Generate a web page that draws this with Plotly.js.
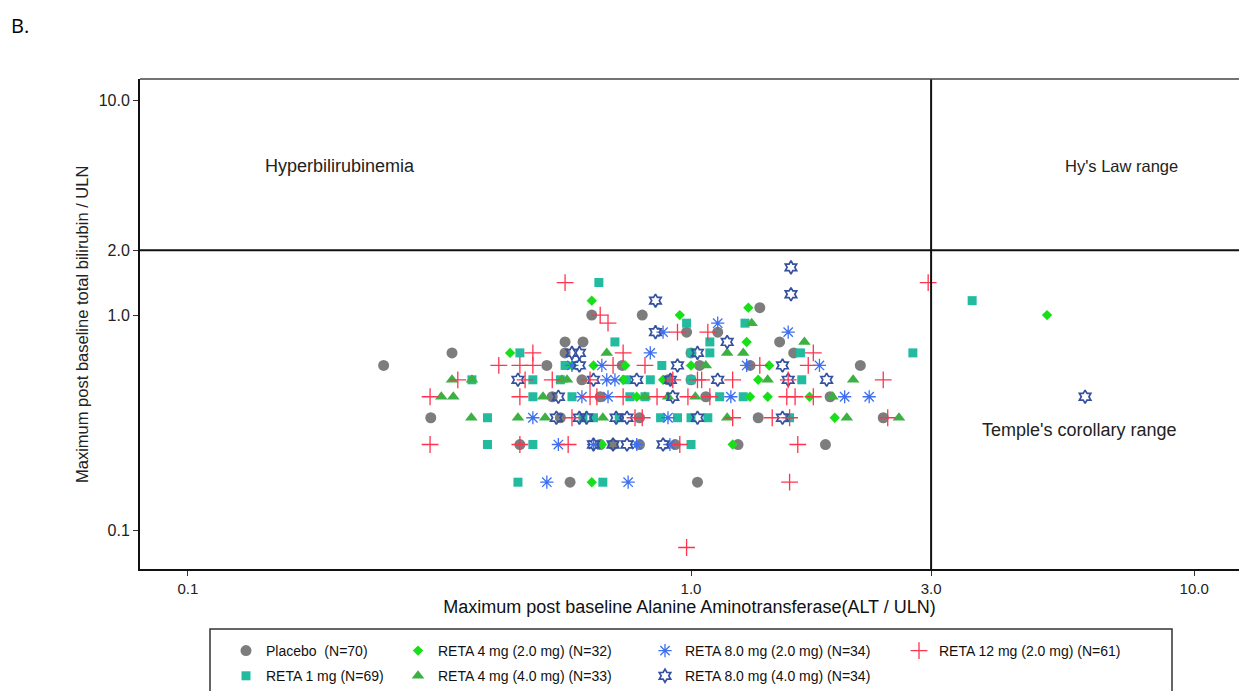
<!DOCTYPE html>
<html>
<head>
<meta charset="utf-8">
<script src="https://cdn.plot.ly/plotly-3.0.1.min.js"></script>
<style>
html,body{margin:0;padding:0;background:#fff;}
#chart{width:1239px;height:691px;}
</style>
</head>
<body>
<div id="chart"></div>
<script>
// ---- tick labels ----
const xTickVals = [0.1, 1, 3, 10];
const xTickText = ["0.1", "1.0", "3.0", "10.0"];
const yTickVals = [0.1, 1, 2, 10];
const yTickText = ["0.1", "1.0", "2.0", "10.0"];

// ---- axis titles ----
const xTitle = 'Maximum post baseline Alanine Aminotransferase(ALT / ULN)';
const yTitle = 'Maximum post baseline total bilirubin / ULN';

// ---- reference limits ----
const altLimit = 3;     // 3 x ULN
const biliLimit = 2;    // 2 x ULN

// ---- series: ALT/ULN (x) and total bilirubin/ULN (y) ----
const placeboX = [0.245,0.335,0.304,0.457,0.53,0.517,0.562,0.562,0.61,0.607,0.635,0.575,0.70,0.66,0.73,0.79,0.80,0.93,0.98,1.0,1.04,1.03,1.13,1.24,1.36,1.31,1.37,1.50,1.60,1.89,1.85,2.17,2.41,0.66,0.90,0.79,1.07,0.55,1.0];
const placeboY = [0.583,0.667,0.333,0.25,0.417,0.583,0.667,0.75,0.75,0.5,1.0,0.167,0.25,0.25,0.583,0.25,1.0,0.25,0.833,0.667,0.583,0.167,0.833,0.25,0.333,0.583,1.083,0.75,0.667,0.417,0.25,0.583,0.333,0.417,0.5,0.333,0.417,0.333,0.5];

const reta1X = [0.394,0.394,0.367,0.457,0.453,0.485,0.485,0.485,0.562,0.58,0.61,0.656,0.668,0.706,0.756,0.745,0.83,0.875,0.94,1.0,1.08,0.98,1.0,1.0,1.0,1.09,1.09,1.14,1.27,1.28,1.66,1.65,1.57,2.76,3.62,0.81,0.64,0.87,0.55,0.72];
const reta1Y = [0.333,0.25,0.5,0.667,0.167,0.417,0.25,0.5,0.583,0.417,0.333,1.417,0.167,0.75,0.417,0.5,0.5,0.583,0.333,0.333,0.333,0.917,0.25,0.667,0.5,0.667,0.75,0.417,0.417,0.917,0.5,0.667,0.333,0.667,1.167,0.417,0.333,0.333,0.5,0.333];

const reta4lowX = [0.437,0.635,0.635,0.665,0.64,0.74,0.733,0.78,0.95,1.21,1.29,1.30,1.31,1.42,1.36,1.43,1.72,1.93,5.1,0.88,1.0,0.58];
const reta4lowY = [0.667,1.167,0.167,0.25,0.583,0.583,0.5,0.417,1.0,0.25,0.75,1.083,0.417,0.417,0.5,0.583,0.417,0.333,1.0,0.5,0.583,0.583];

const reta4highX = [0.319,0.337,0.335,0.366,0.367,0.453,0.508,0.513,0.554,0.567,0.668,0.68,0.81,1.02,1.07,1.18,1.27,1.32,1.18,1.42,1.68,1.91,2.04,2.10,2.59,0.9];
const reta4highY = [0.417,0.417,0.5,0.333,0.5,0.333,0.417,0.333,0.5,0.5,0.333,0.667,0.417,0.417,0.583,0.667,0.667,0.917,0.333,0.5,0.75,0.417,0.333,0.5,0.333,0.417];

const reta8lowX = [0.517,0.75,0.485,0.545,0.607,0.684,0.68,0.706,0.58,0.665,0.83,0.88,0.90,0.908,1.13,1.20,1.29,1.56,1.80,2.02,2.26,0.64,0.78];
const reta8lowY = [0.167,0.167,0.333,0.25,0.417,0.417,0.5,0.5,0.583,0.583,0.667,0.833,0.333,0.25,0.917,0.417,0.583,0.833,0.583,0.417,0.417,0.25,0.25];

const reta8highX = [0.453,0.54,0.545,0.60,0.62,0.64,0.70,0.746,0.71,0.746,0.60,0.58,0.60,0.64,0.78,0.85,0.85,0.92,0.91,0.94,1.03,1.03,1.13,1.18,1.52,1.56,1.52,1.58,1.58,1.86,0.88,6.07];
const reta8highY = [0.5,0.333,0.417,0.333,0.333,0.25,0.25,0.25,0.333,0.333,0.583,0.667,0.667,0.5,0.5,1.167,0.833,0.417,0.5,0.583,0.667,0.333,0.5,0.75,0.583,0.5,0.333,1.667,1.25,0.5,0.25,0.417];

const reta12X = [0.303,0.303,0.344,0.415,0.457,0.485,0.485,0.457,0.457,0.468,0.53,0.562,0.66,0.684,0.57,0.58,0.63,0.65,0.63,0.70,0.733,0.733,0.774,0.80,0.81,0.856,0.92,0.94,0.95,0.986,1.03,1.05,1.08,1.09,1.21,1.21,1.37,1.45,1.57,1.55,1.61,1.75,1.71,1.75,1.56,1.63,1.57,0.98,2.41,2.46,2.96];
const reta12Y = [0.417,0.25,0.5,0.583,0.583,0.583,0.667,0.25,0.417,0.5,0.5,1.417,1.0,0.917,0.25,0.333,0.417,0.417,0.5,0.583,0.667,0.417,0.333,0.333,0.583,0.417,0.5,0.833,0.25,0.417,0.5,0.5,0.833,0.417,0.5,0.333,0.583,0.333,0.333,0.417,0.417,0.417,0.583,0.667,0.5,0.25,0.167,0.083,0.5,0.333,1.417];

const seriesNames = [
  "Placebo\u00a0 (N=70)",
  "RETA 1 mg (N=69)",
  "RETA 4 mg (2.0 mg) (N=32)",
  "RETA 4 mg (4.0 mg) (N=33)",
  "RETA 8.0 mg (2.0 mg) (N=34)",
  "RETA 8.0 mg (4.0 mg) (N=34)",
  "RETA 12 mg (2.0 mg) (N=61)"
];

function mk(name, x, y, symbol, color, size, lw, legend) {
  return {
    type: 'scatter', mode: 'markers', name: name, x: x, y: y,
    legend: legend, legendgroup: name,
    marker: {symbol: symbol, color: color, size: size, line: {width: lw, color: color}},
    cliponaxis: false, hoverinfo: 'x+y+name'
  };
}

const data = [
  mk(seriesNames[0], placeboX, placeboY, 'circle', '#7d7d7d', 11, 0, 'legend'),
  mk(seriesNames[1], reta1X, reta1Y, 'square', '#22bba0', 9, 0, 'legend'),
  mk(seriesNames[2], reta4lowX, reta4lowY, 'diamond', '#18e018', 8, 0, 'legend2'),
  mk(seriesNames[3], reta4highX, reta4highY, 'triangle-up', '#3cb043', 11, 0, 'legend2'),
  mk(seriesNames[4], reta8lowX, reta8lowY, 'asterisk-open', '#3d6ff0', 11, 1.3, 'legend3'),
  mk(seriesNames[5], reta8highX, reta8highY, 'hexagram-open', '#34509f', 10, 1.7, 'legend3'),
  mk(seriesNames[6], reta12X, reta12Y, 'cross-thin-open', '#ff3350', 12, 1.3, 'legend4')
];

const FF = 'Liberation Sans, Arial, sans-serif';
const legendFont = {family: FF, size: 14, color: '#111'};
function leg(xpx) {
  return {
    xref: 'container', yref: 'container', x: xpx / 1239, y: 1 - 635 / 691,
    xanchor: 'left', yanchor: 'top', orientation: 'v',
    bgcolor: 'rgba(0,0,0,0)', borderwidth: 0, font: legendFont,
    traceorder: 'grouped', tracegroupgap: 4, itemwidth: 30
  };
}

const layout = {
  width: 1239, height: 691,
  margin: {l: 140, r: 0, t: 79, b: 122, autoexpand: false},
  paper_bgcolor: '#fff', plot_bgcolor: '#fff',
  font: {family: FF, size: 14, color: '#222'},
  showlegend: true,
  xaxis: {
    type: 'log', range: [-1.095, 1.089], automargin: false,
    tickvals: xTickVals, ticktext: xTickText,
    ticks: 'outside', ticklen: 5, tickwidth: 1, tickcolor: '#333',
    showline: true, linecolor: '#111', linewidth: 2,
    showgrid: false, zeroline: false,
    tickfont: {family: FF, size: 15, color: '#222'},
    title: {text: xTitle, standoff: 2, font: {family: FF, size: 18, color: '#111'}}
  },
  yaxis: {
    type: 'log', range: [-1.181, 1.098], automargin: false,
    tickvals: yTickVals, ticktext: yTickText,
    ticks: 'outside', ticklen: 5, tickwidth: 1, tickcolor: '#333',
    showline: true, linecolor: '#111', linewidth: 2,
    showgrid: false, zeroline: false,
    tickfont: {family: FF, size: 16, color: '#222'}
  },
  shapes: [
    {type: 'line', xref: 'paper', yref: 'y', x0: 0, x1: 1, y0: biliLimit, y1: biliLimit,
     line: {color: '#111', width: 2}},
    {type: 'line', xref: 'x', yref: 'paper', x0: altLimit, x1: altLimit, y0: 0, y1: 1,
     line: {color: '#111', width: 2}},
    {type: 'line', xref: 'paper', yref: 'paper', x0: 0, x1: 1, y0: 1, y1: 1,
     line: {color: '#444', width: 1.5}},
    {type: 'rect', xref: 'paper', yref: 'paper', x0: (210 - 140) / 1099, x1: (1172 - 140) / 1099,
     y0: -0.1224, y1: -0.30, line: {color: '#333', width: 1.5}, fillcolor: 'rgba(0,0,0,0)'}
  ],
  annotations: [
    {text: yTitle, xref: 'paper', yref: 'paper', x: -0.0528, y: 0.5, textangle: -90,
     xanchor: 'center', yanchor: 'middle', showarrow: false,
     font: {family: FF, size: 16.5, color: '#222'}},
    {text: 'Hyperbilirubinemia', xref: 'x', yref: 'y', x: -0.698, y: 0.693, showarrow: false,
     font: {family: FF, size: 18, color: '#222'}},
    {text: "Hy's Law range", xref: 'x', yref: 'y', x: 0.855, y: 0.693, showarrow: false,
     font: {family: FF, size: 16.5, color: '#222'}},
    {text: "Temple's corollary range", xref: 'x', yref: 'y', x: 0.773, y: -0.535, showarrow: false,
     font: {family: FF, size: 18, color: '#222'}},
    {text: 'B.', xref: 'paper', yref: 'paper', x: -0.119, y: 1.11, xanchor: 'left', yanchor: 'middle', showarrow: false,
     font: {family: 'Open Sans, Liberation Sans, sans-serif', size: 20, color: '#000'}}
  ],
  legend: leg(226),
  legend2: leg(398),
  legend3: leg(645),
  legend4: leg(899)
};

Plotly.newPlot('chart', data, layout, {displayModeBar: false, staticPlot: true});
</script>
</body>
</html>
